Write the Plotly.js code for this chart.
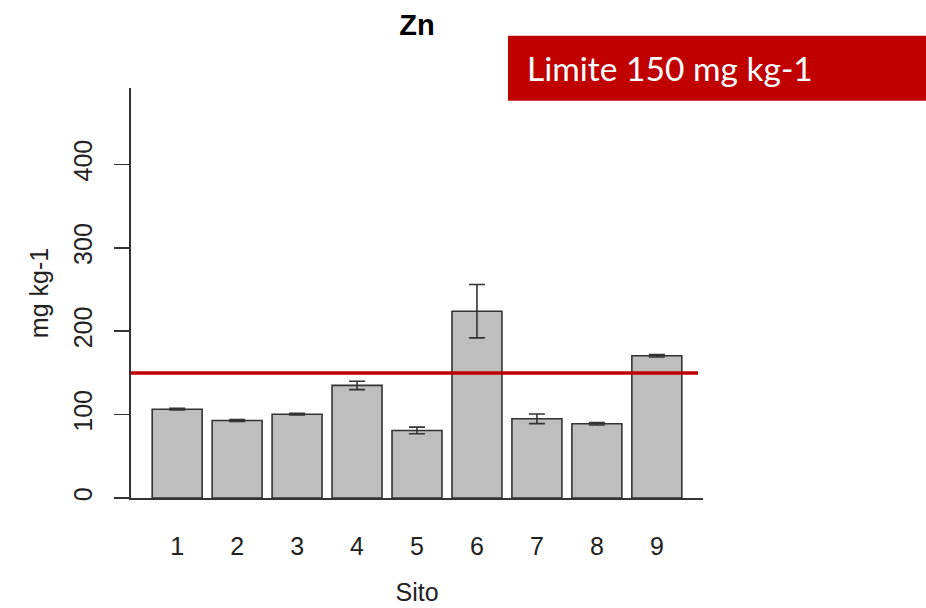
<!DOCTYPE html>
<html>
<head>
<meta charset="utf-8">
<script src="https://cdn.plot.ly/plotly-3.0.1.min.js"></script>
<style>
  html, body { margin: 0; padding: 0; background: #fff; }
  #chart { width: 926px; height: 608px; }
</style>
</head>
<body>
<div id="chart"></div>
<script>
// Zn concentration per sampling site (mean ± error)
const sites = [1, 2, 3, 4, 5, 6, 7, 8, 9];
const siteLabels = ["1", "2", "3", "4", "5", "6", "7", "8", "9"];
const znMean = [106.5, 93, 100.5, 135, 81, 224, 95, 89, 170.5];
const znErr = [1, 1.2, 1, 5, 4, 32, 5.8, 1.5, 1.5];
const yTicks = [0, 100, 200, 300, 400];
const limitValue = 150;
const limitText = "Limite 150 mg kg-1";

const rFont = "Liberation Sans, Arial, Helvetica, sans-serif";
const ink = "#333333";

const bars = {
  type: "bar",
  x: sites,
  y: znMean,
  marker: { color: "#BEBEBE", line: { color: ink, width: 1.6 } },
  error_y: { type: "data", array: znErr, visible: true, color: ink, thickness: 1.6, width: 8 },
  hoverinfo: "x+y"
};

const layout = {
  width: 926,
  height: 608,
  margin: { l: 131, r: 223, t: 88, b: 110, pad: 0 },
  paper_bgcolor: "#ffffff",
  plot_bgcolor: "#ffffff",
  showlegend: false,
  bargap: 1 / 6,
  font: { family: rFont, color: "#222222", size: 25 },
  title: {
    text: "<b>Zn</b>",
    font: { family: rFont, size: 29, color: "#000000" },
    xref: "paper", x: 0.5, xanchor: "center",
    yref: "container", y: 1 - 25 / 608, yanchor: "middle"
  },
  xaxis: {
    range: [0.23, 9.77],
    tickvals: sites,
    ticktext: siteLabels,
    ticks: "",
    showgrid: false,
    zeroline: false,
    showline: true,
    linecolor: ink,
    linewidth: 1.6,
    ticklabelstandoff: 25,
    tickfont: { family: rFont, size: 25, color: "#222222" },
    title: { text: "Sito", font: { family: rFont, size: 25, color: "#222222" }, standoff: 25 },
    fixedrange: true
  },
  yaxis: {
    range: [0, 491.6],
    tickvals: yTicks,
    ticktext: yTicks.map(String),
    tickangle: -90,
    ticks: "outside",
    ticklen: 15,
    tickwidth: 1.6,
    tickcolor: ink,
    showgrid: false,
    zeroline: false,
    showline: true,
    linecolor: ink,
    linewidth: 1.6,
    ticklabelstandoff: 12,
    tickfont: { family: rFont, size: 25, color: "#222222" },
    title: { text: "mg kg-1", font: { family: rFont, size: 25, color: "#222222" }, standoff: 13 },
    fixedrange: true
  },
  shapes: [
    {
      type: "line", xref: "paper", yref: "y",
      x0: 0, x1: (698 - 131) / 572, y0: limitValue, y1: limitValue,
      line: { color: "#C00000", width: 3.5 }
    },
    {
      type: "rect", xref: "paper", yref: "paper",
      x0: (508 - 131) / 572, x1: (926 - 131) / 572,
      y0: (498 - 100.7) / 410, y1: (498 - 35.7) / 410,
      fillcolor: "#C00000", line: { width: 0 }, layer: "above"
    }
  ],
  annotations: [
    {
      text: limitText, xref: "paper", yref: "paper",
      x: (525 - 131) / 572, y: (498 - 68) / 410,
      xanchor: "left", yanchor: "middle", showarrow: false,
      font: { family: "Lato, Carlito, Calibri, sans-serif", size: 33.5, color: "#ffffff" }
    }
  ]
};

Plotly.newPlot("chart", [bars], layout, { displayModeBar: false, staticPlot: true });
</script>
</body>
</html>
